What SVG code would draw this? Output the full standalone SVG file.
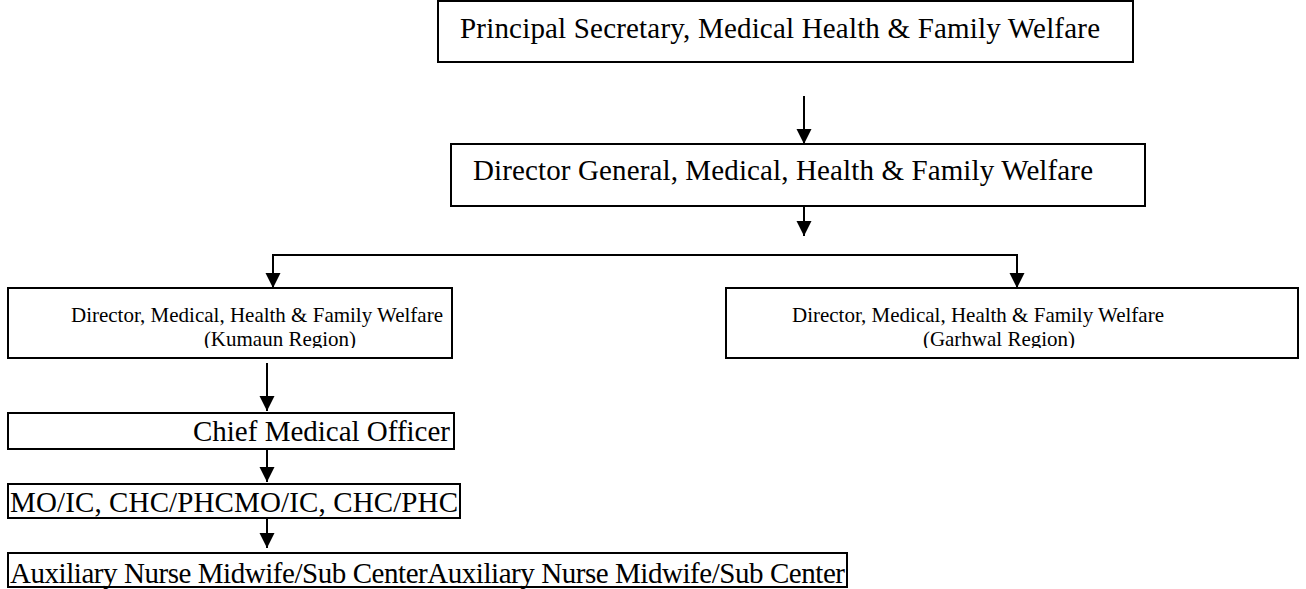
<svg xmlns="http://www.w3.org/2000/svg" width="1306" height="589" viewBox="0 0 1306 589">
<style>
.box{fill:#fff;stroke:#000;stroke-width:2}
.t{font-family:"Liberation Serif","Times New Roman",serif;fill:#000}
.big{font-size:29px}
.sm{font-size:21px}
.ln{fill:none;stroke:#000;stroke-width:2}
</style>
<defs>
<marker id="ah" markerUnits="userSpaceOnUse" markerWidth="16" markerHeight="16" refX="15" refY="7.5" orient="auto">
<path d="M0,0 L15,7.5 L0,15 Z" fill="#000"/>
</marker>
<clipPath id="ck"><rect x="8" y="288" width="444" height="60"/></clipPath>
<clipPath id="cg"><rect x="726" y="288" width="572" height="60"/></clipPath>
</defs>
<rect width="1306" height="589" fill="#fff"/>
<g id="connectors">
<line class="ln" x1="804" y1="96" x2="804" y2="144" marker-end="url(#ah)"/>
<line class="ln" x1="804" y1="207" x2="804" y2="236" marker-end="url(#ah)"/>
<polyline class="ln" points="273,255 1017,255 1017,288" marker-end="url(#ah)"/>
<line class="ln" x1="273" y1="254" x2="273" y2="288" marker-end="url(#ah)"/>
<line class="ln" x1="267" y1="363" x2="267" y2="411" marker-end="url(#ah)"/>
<line class="ln" x1="267" y1="450" x2="267" y2="482" marker-end="url(#ah)"/>
<line class="ln" x1="267" y1="519" x2="267" y2="548" marker-end="url(#ah)"/>
</g>
<g id="n1">
<rect class="box" x="438" y="1" width="695" height="61"/>
<text class="t big" x="460" y="38" textLength="640">Principal Secretary, Medical Health &amp; Family Welfare</text>
</g>
<g id="n2">
<rect class="box" x="451" y="144" width="694" height="62"/>
<text class="t big" x="473" y="180" textLength="620">Director General, Medical, Health &amp; Family Welfare</text>
</g>
<g id="n3">
<rect class="box" x="8" y="288" width="444" height="70"/>
<g clip-path="url(#ck)">
<text class="t sm" x="257" y="322" text-anchor="middle">Director, Medical, Health &amp; Family Welfare</text>
<text class="t sm" x="280" y="346" text-anchor="middle">(Kumaun Region)</text>
</g>
</g>
<g id="n4">
<rect class="box" x="726" y="288" width="572" height="70"/>
<g clip-path="url(#cg)">
<text class="t sm" x="978" y="322" text-anchor="middle">Director, Medical, Health &amp; Family Welfare</text>
<text class="t sm" x="999" y="346" text-anchor="middle">(Garhwal Region)</text>
</g>
</g>
<g id="n5">
<rect class="box" x="8" y="413" width="446" height="36"/>
<text class="t big" x="193" y="441" textLength="257">Chief Medical Officer</text>
</g>
<g id="n6">
<rect class="box" x="8" y="484" width="452" height="34"/>
<text class="t big" x="10" y="512" textLength="448">MO/IC, CHC/PHCMO/IC, CHC/PHC</text>
</g>
<g id="n7">
<rect class="box" x="8" y="553" width="839" height="34"/>
<text class="t big" x="10" y="583" textLength="835">Auxiliary Nurse Midwife/Sub CenterAuxiliary Nurse Midwife/Sub Center</text>
</g>
</svg>
